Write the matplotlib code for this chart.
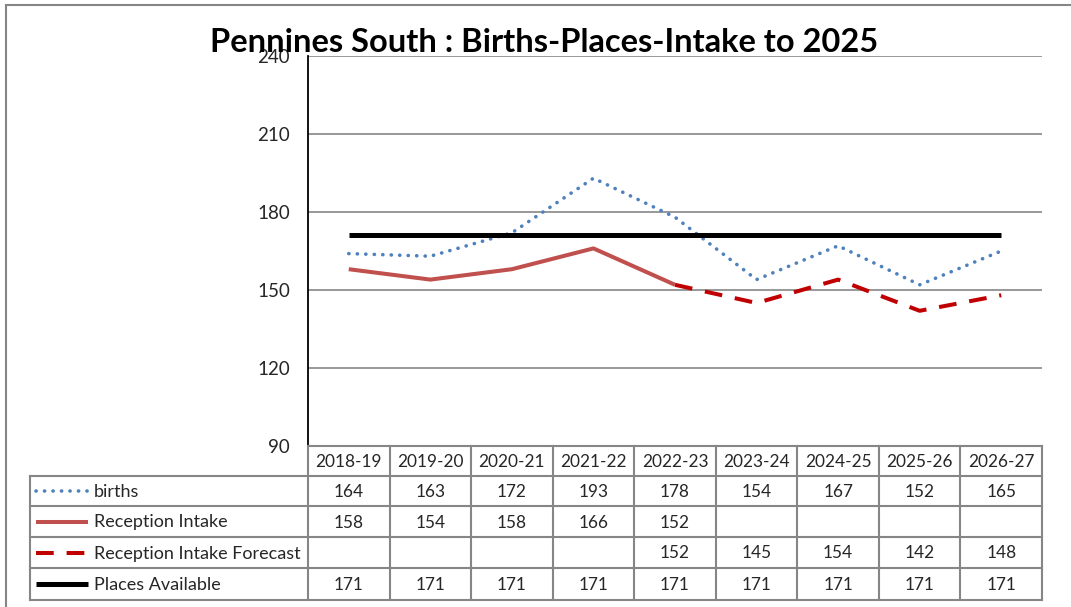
import numpy as np
import matplotlib
matplotlib.use("Agg")
import matplotlib.pyplot as plt

# Data
years = ['2018-19', '2019-20', '2020-21', '2021-22', '2022-23',
         '2023-24', '2024-25', '2025-26', '2026-27']
births = [164, 163, 172, 193, 178, 154, 167, 152, 165]
intake = [158, 154, 158, 166, 152, None, None, None, None]
forecast = [None, None, None, None, 152, 145, 154, 142, 148]
places = [171, 171, 171, 171, 171, 171, 171, 171, 171]

series_names = ['births', 'Reception Intake', 'Reception Intake Forecast', 'Places Available']
series_vals = [births, intake, forecast, places]
yticks = [90, 120, 150, 180, 210, 240]

plt.rcParams['font.family'] = ['Lato', 'DejaVu Sans']

W, H = 1071, 607
fig = plt.figure(figsize=(W / 100, H / 100), dpi=100)

# pixel layout
px_l, px_r, px_t, px_b = 308, 1042, 56, 446
tab_left = 30
row_edges = [446, 476, 506, 537, 568, 600]
GRID = '#868686'
TXT = '#262626'

ax = fig.add_axes([px_l / W, 1 - px_b / H, (px_r - px_l) / W, (px_b - px_t) / H])
x = np.arange(len(years))


def arr(v):
    return np.array([np.nan if a is None else a for a in v], dtype=float)


styles = [
    dict(color='#4F81BD', lw=2.6, linestyle=(0, (0.05, 2.3)), dash_capstyle='round'),
    dict(color='#C0504D', lw=2.9, linestyle='-', solid_capstyle='butt'),
    dict(color='#C00000', lw=2.9, linestyle=(0, (4.4, 3.2)), dash_capstyle='butt'),
    dict(color='#000000', lw=3.6, linestyle='-', solid_capstyle='butt'),
]
order = [3, 0, 1, 2]
for k in order:
    ax.plot(x, arr(series_vals[k]), zorder=3 + k, **styles[k])

ax.set_xlim(-0.5, len(years) - 0.5)
ax.set_ylim(90, 240)
ax.set_yticks(yticks)
ax.set_yticklabels([str(t) for t in yticks], fontsize=13.5, color=TXT)
ax.set_xticks([])
for t in yticks[1:]:
    ax.axhline(t, color=GRID, lw=1.2, zorder=1)
for s in ['top', 'right', 'bottom']:
    ax.spines[s].set_visible(False)
ax.spines['left'].set_color('black')
ax.spines['left'].set_linewidth(1.3)
ax.tick_params(axis='y', length=0, pad=13)

# table drawn in pixel coordinates
tab = fig.add_axes([0, 0, 1, 1])
tab.set_xlim(0, W)
tab.set_ylim(H, 0)
tab.axis('off')

colw = (px_r - px_l) / len(years)
col_edges = [px_l + colw * i for i in range(len(years) + 1)]
lk = dict(color=GRID, lw=1.5, solid_capstyle='projecting')

# horizontal lines
tab.plot([px_l, px_r], [row_edges[0]] * 2, **lk)
for yy in row_edges[1:]:
    tab.plot([tab_left, px_r], [yy, yy], **lk)
# vertical lines
for xx in col_edges:
    tab.plot([xx, xx], [row_edges[0], row_edges[-1]], **lk)
tab.plot([tab_left, tab_left], [row_edges[1], row_edges[-1]], **lk)

# outer frame (left + top)
tab.plot([6, 6], [5, 607], color=GRID, lw=1.5)
tab.plot([6, 1071], [5, 5], color=GRID, lw=1.5)

fs = 12.4
for i, yr in enumerate(years):
    cx = (col_edges[i] + col_edges[i + 1]) / 2
    tab.text(cx, (row_edges[0] + row_edges[1]) / 2 + 1, yr, ha='center', va='center', fontsize=fs, color=TXT)
    for r, vals in enumerate(series_vals):
        v = vals[i]
        if v is not None:
            tab.text(cx, (row_edges[r + 1] + row_edges[r + 2]) / 2 + 1, str(v),
                     ha='center', va='center', fontsize=fs, color=TXT)

for r, name in enumerate(series_names):
    cy = (row_edges[r + 1] + row_edges[r + 2]) / 2
    tab.plot([36, 88], [cy, cy], **styles[r])
    tab.text(94, cy + 1, name, ha='left', va='center', fontsize=13, color=TXT)

fig.text(544 / W, 1 - 42 / H, 'Pennines South : Births-Places-Intake to 2025',
         ha='center', va='center', fontsize=23.5, fontweight='bold', color='black')

fig.savefig('out.png', dpi=100, facecolor='white')
